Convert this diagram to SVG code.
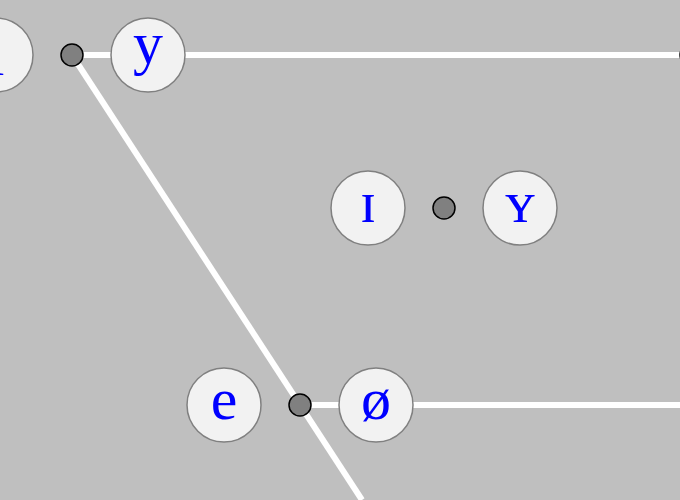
<svg xmlns="http://www.w3.org/2000/svg" width="680" height="500" viewBox="0 0 680 500">
<style>
.bg{fill:#bfbfbf}
.edge{stroke:#ffffff;stroke-width:6;fill:none}
.node{fill:#f2f2f2;stroke:#808080;stroke-width:1.5}
.dot{fill:#808080;stroke:#000000;stroke-width:1.5}
.lbl{font-family:"Liberation Serif","DejaVu Serif",serif;font-size:60px;fill:#0000ff;text-anchor:middle}
</style>
<rect class="bg" x="0" y="0" width="680" height="500"/>
<g id="connectors">
<line class="edge" x1="72" y1="55" x2="692" y2="55"/>
<line class="edge" x1="72" y1="55" x2="362" y2="500"/>
<line class="edge" x1="300" y1="405" x2="692" y2="405"/>
</g>
<g id="node-i"><circle class="node" cx="-4" cy="55" r="37"/><text class="lbl" x="-4" y="75">i</text></g>
<g id="dot-top"><circle class="dot" cx="72" cy="55" r="11"/></g>
<g id="node-y"><circle class="node" cx="148" cy="55" r="37"/><text class="lbl" x="148" y="63">y</text></g>
<g id="dot-right"><circle class="dot" cx="691" cy="55" r="11"/></g>
<g id="node-I"><circle class="node" cx="368" cy="208" r="37"/><text class="lbl" x="368" y="222">ɪ</text></g>
<g id="dot-mid"><circle class="dot" cx="444" cy="208" r="11"/></g>
<g id="node-Y"><circle class="node" cx="520" cy="208" r="37"/><text class="lbl" x="520" y="222">ʏ</text></g>
<g id="node-e"><circle class="node" cx="224" cy="405" r="37"/><text class="lbl" x="224" y="419">e</text></g>
<g id="dot-bottom"><circle class="dot" cx="300" cy="405" r="11"/></g>
<g id="node-oe"><circle class="node" cx="376" cy="405" r="37"/><text class="lbl" x="376" y="419">ø</text></g>
</svg>
